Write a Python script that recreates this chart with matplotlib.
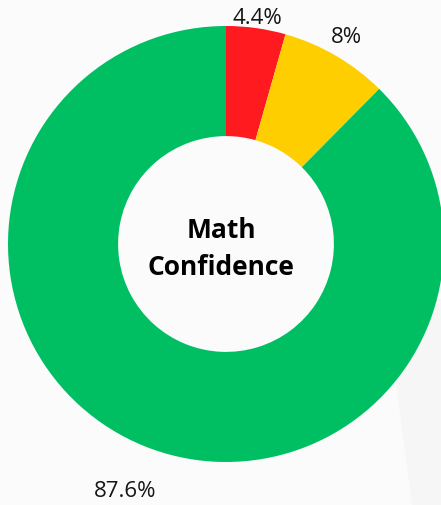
import numpy as np
import matplotlib.pyplot as plt

# Math confidence breakdown
labels = ["4.4%", "8%", "87.6%"]
values = [4.4, 8.0, 87.6]
colors = ["#ff1a1f", "#ffce00", "#00bf63"]
label_dist = [1.05, 1.10, 1.22]

W, H = 441, 506
fig = plt.figure(figsize=(W / 100, H / 100), dpi=100)
fig.patch.set_facecolor("#fbfbfb")
ax = fig.add_axes([0, 0, 1, 1])

# faint shading at the lower right of the background
ax.fill([385, 412, W, W], [H - 300, 0, 0, H - 300], color="#f6f6f6",
        zorder=0, lw=0)

cx, cy, R = 226, H - 245, 218
ax.pie(values, colors=colors, startangle=90, counterclock=False,
       center=(cx, cy), radius=R, frame=True,
       wedgeprops=dict(width=R * 0.505, linewidth=0))
ax.set_xlim(0, W)
ax.set_ylim(0, H)
ax.set_aspect("equal")
ax.axis("off")

# percentage labels outside the ring
start = 90.0
total = sum(values)
for lab, v, d in zip(labels, values, label_dist):
    mid = np.deg2rad(start - v / total * 360 / 2)
    start -= v / total * 360
    ax.text(cx + R * d * np.cos(mid), cy + R * d * np.sin(mid), lab,
            ha="center", va="center", fontsize=16, family="Open Sans",
            color="#151515")

ax.text(cx - 5, cy - 4, "Math\nConfidence", ha="center", va="center",
        fontsize=19, fontweight="bold", family="Open Sans",
        linespacing=1.45, color="#000000")

fig.savefig("out.png", dpi=100, facecolor=fig.get_facecolor())
